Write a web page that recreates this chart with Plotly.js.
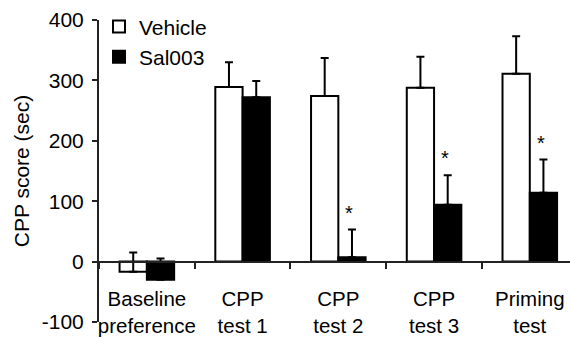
<!DOCTYPE html>
<html>
<head>
<meta charset="utf-8">
<script src="https://cdn.plot.ly/plotly-3.0.1.min.js"></script>
<style>html,body{margin:0;padding:0;background:#fff;}#chart{width:570px;height:338px;}</style>
</head>
<body>
<div id="chart"></div>
<script>
const categories = ["Baseline<br>preference", "CPP<br>test 1", "CPP<br>test 2", "CPP<br>test 3", "Priming<br>test"];
const vehicleValues = [-17, 289, 274, 288, 311];
const vehicleErrors = [32, 41, 63, 51, 62];
const salValues = [-30, 272, 7, 94, 114];
const salErrors = [35, 27, 46, 49, 55];
const salSignificant = [false, false, true, true, true];
const yTicks = [-100, 0, 100, 200, 300, 400];

const FONT = "Arial, 'Liberation Sans', sans-serif";
const FS = 21;
const zeros = categories.map(() => 0);

const traces = [
  {
    type: "bar", name: "Vehicle", x: categories, y: vehicleValues,
    marker: {color: "#ffffff", line: {color: "#000000", width: 2}},
    error_y: {type: "data", symmetric: false, array: vehicleErrors, arrayminus: zeros,
              color: "#000000", thickness: 2, width: 4}
  },
  {
    type: "bar", name: "Sal003", x: categories, y: salValues,
    marker: {color: "#000000", line: {color: "#000000", width: 2}},
    error_y: {type: "data", symmetric: false, array: salErrors, arrayminus: zeros,
              color: "#000000", thickness: 2, width: 4}
  }
];

const annotations = [];
categories.forEach((c, i) => {
  if (salSignificant[i]) {
    annotations.push({
      x: c, y: salValues[i] + salErrors[i], xref: "x", yref: "y",
      text: "*", showarrow: false, xshift: 11, yshift: 4,
      yanchor: "bottom", font: {family: FONT, size: 20, color: "#000"}
    });
  }
});

const layout = {
  width: 570, height: 338,
  margin: {l: 99, r: 0, t: 20, b: 16},
  paper_bgcolor: "#fff", plot_bgcolor: "#fff",
  font: {family: FONT, size: FS, color: "#000"},
  barmode: "group", bargap: 0.43, bargroupgap: 0,
  showlegend: true,
  legend: {x: 0.0, y: 1.045, xanchor: "left", yanchor: "top",
           bgcolor: "rgba(0,0,0,0)", font: {family: FONT, size: FS, color: "#000"},
           tracegroupgap: 0, itemwidth: 30},
  xaxis: {
    type: "category", range: [-0.5, 4.42],
    anchor: "free", position: 0.2, automargin: false,
    showline: true, linecolor: "#222", linewidth: 2,
    ticks: "outside", tickson: "boundaries", ticklen: 6, tickwidth: 2, tickcolor: "#222",
    tickangle: 0, ticklabelstandoff: 19, ticklabelshift: 0, showgrid: false, zeroline: false,
    tickfont: {family: FONT, size: 20.5, color: "#000"}
  },
  yaxis: {
    range: [-100, 400], tickvals: yTicks, ticktext: yTicks.map(String),
    automargin: false,
    showline: true, linecolor: "#222", linewidth: 2,
    ticks: "outside", ticklen: 5, tickwidth: 2, tickcolor: "#222",
    ticklabelstandoff: 4, showgrid: false, zeroline: false,
    tickfont: {family: FONT, size: FS, color: "#000"},
    title: {text: "CPP score (sec)", font: {family: FONT, size: FS, color: "#000"}, standoff: 6}
  },
  annotations: annotations
};

Plotly.newPlot("chart", traces, layout, {staticPlot: true, displayModeBar: false});
</script>
</body>
</html>
